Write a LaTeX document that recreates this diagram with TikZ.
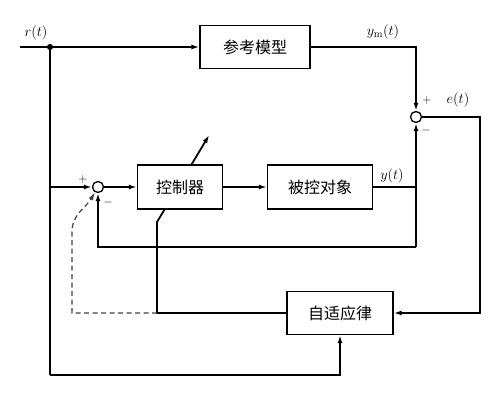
\documentclass[tikz,border=0pt]{standalone}
\usepackage{fontspec}
\newfontfamily\cjk{Noto Sans CJK SC}
\usetikzlibrary{arrows.meta}
\begin{document}
\begin{tikzpicture}[x=1pt,y=1pt,
  block/.style={draw,line width=1.3pt,minimum height=44pt,inner sep=0pt,font=\cjk\fontsize{16}{18}\selectfont},
  sum/.style={circle,draw,line width=1.3pt,minimum size=11pt,inner sep=0pt},
  sig/.style={line width=1.8pt},
  arr/.style={sig,-{Latex[length=8pt,width=5pt]}},
  lbl/.style={font=\fontsize{15}{17}\selectfont},
  sign/.style={font=\fontsize{12}{13}\selectfont,inner sep=1pt}]
  \useasboundingbox (0,0) rectangle (500,400);
  \node[block,minimum width=110pt,minimum height=43pt] (model) at (255,353) {参考模型};
  \node[block,minimum width=85pt] (ctrl) at (180,213) {控制器};
  \node[block,minimum width=105pt] (plant) at (320,213) {被控对象};
  \node[block,minimum width=106pt,minimum height=43pt] (adapt) at (340,87) {自适应律};
  \node[sum] (s1) at (98,213) {};
  \node[sum] (s2) at (416,283) {};
  \node[circle,fill=black,inner sep=2.2pt] (dot) at (50,353) {};
  \coordinate (in) at (20,353);
  \coordinate (rbot) at (50,25);
  \coordinate (fb) at (416,153);
  \coordinate (eturn) at (480,87);
  \coordinate (tunebend) at (157,178);
  \coordinate (tunelow) at (164.8,191);
  \coordinate (tunehigh) at (191.2,235);
  \coordinate (tunetip) at (209.2,265);
  \coordinate (dashcorner) at (72,87);
  \coordinate (dashtop) at (72,168);
  \draw[sig] (in) -- (dot);
  \draw[arr] (dot) -- (model);
  \draw[arr] (model) -| (s2);
  \draw[sig] (dot) -- (rbot);
  \draw[arr] (rbot) -| (adapt);
  \draw[arr] (dot |- s1) -- (s1);
  \draw[arr] (s1) -- (ctrl);
  \draw[arr] (ctrl) -- (plant);
  \draw[sig] (plant) -- (plant -| s2);
  \draw[arr] (fb) -- (s2);
  \draw[arr] (fb) -| (s1);
  \draw[arr] (s2) -| (eturn) -- (adapt);
  \draw[sig] (adapt) -| (tunebend) -- (tunelow);
  \draw[arr] (tunehigh) -- (tunetip);
  \draw[arr,line width=1.2pt,draw=black!75,dash pattern=on 5pt off 3.5pt] (tunebend |- adapt) -- (dashcorner) -- (dashtop) to[out=90,in=240] (s1);
  \node[lbl] (rlbl) at (36,367) {$r(t)$};
  \node[lbl] (ymlbl) at (383,368) {$y_{\mathrm{m}}(t)$};
  \node[lbl] (elbl) at (458,300) {$e(t)$};
  \node[lbl] (ylbl) at (392,224) {$y(t)$};
  \node[sign] (s2plus) at (427,300) {$+$};
  \node[sign] (s2minus) at (426,270) {$-$};
  \node[sign] (s1plus) at (83,221) {$+$};
  \node[sign] (s1minus) at (108,198) {$-$};
\end{tikzpicture}
\end{document}
